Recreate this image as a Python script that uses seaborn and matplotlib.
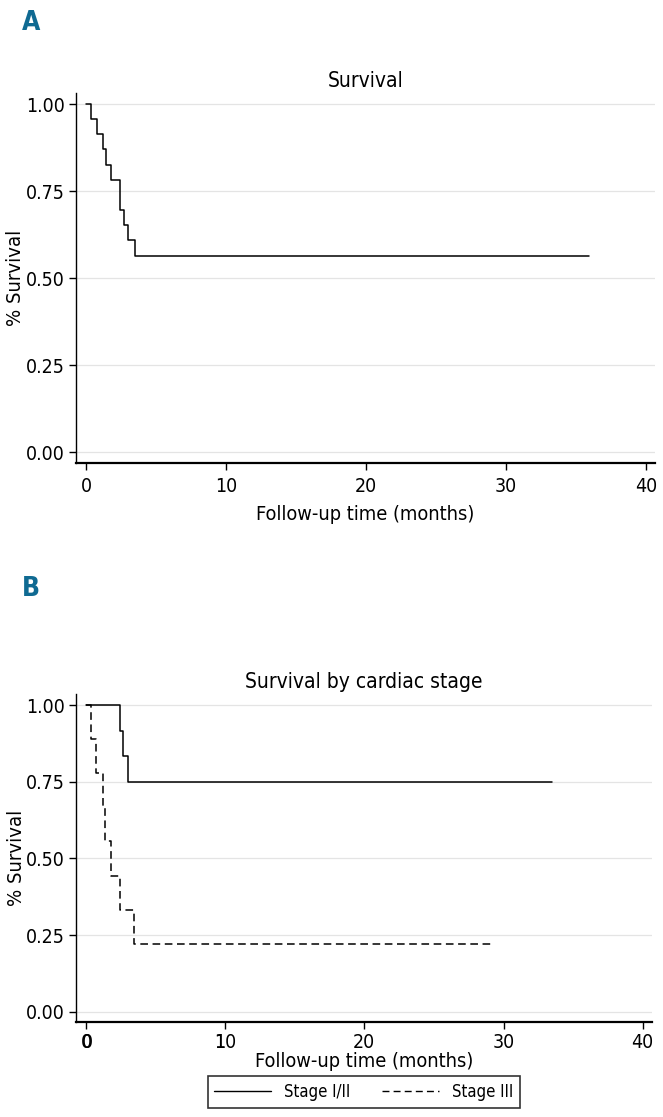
import numpy as np
import pandas as pd
import seaborn as sns
import matplotlib.pyplot as plt
from matplotlib.lines import Line2D

# Kaplan-Meier steps
all_time = [0, 0.34, 0.76, 1.24, 1.41, 1.81, 2.45, 2.74, 2.98, 3.48, 35.9]
all_surv = [1.0, 0.957, 0.913, 0.870, 0.826, 0.783, 0.696, 0.652, 0.609, 0.565, 0.565]

stage12_time = [0, 2.45, 2.68, 3.0, 33.5]
stage12_surv = [1.0, 0.917, 0.833, 0.750, 0.750]

stage3_time = [0, 0.34, 0.72, 1.2, 1.39, 1.8, 2.47, 3.43, 29.1]
stage3_surv = [1.0, 0.889, 0.778, 0.667, 0.556, 0.444, 0.333, 0.222, 0.222]

groups = ['Stage I/II', 'Stage III']
x_ticks = [0, 10, 20, 30, 40]
y_ticks = [0.0, 0.25, 0.5, 0.75, 1.0]

sns.set_theme(style='white')
plt.rcParams['font.family'] = ['Liberation Sans Narrow', 'DejaVu Sans']
plt.rcParams['font.stretch'] = 'condensed'
plt.rcParams['axes.edgecolor'] = 'black'
plt.rcParams['xtick.color'] = 'black'
plt.rcParams['ytick.color'] = 'black'
plt.rcParams['text.color'] = 'black'
plt.rcParams['axes.labelcolor'] = 'black'

fig = plt.figure(figsize=(6.63, 11.17), dpi=100)
axA = fig.add_axes([0.1142, 0.5858, 0.8738, 0.3309])
axB = fig.add_axes([0.1142, 0.0853, 0.8688, 0.2934])

dfA = pd.DataFrame({'time': all_time, 'surv': all_surv})
dfB = pd.concat([
    pd.DataFrame({'time': stage12_time, 'surv': stage12_surv, 'group': groups[0]}),
    pd.DataFrame({'time': stage3_time, 'surv': stage3_surv, 'group': groups[1]}),
])

sns.lineplot(data=dfA, x='time', y='surv', ax=axA, color='black', lw=1.1,
             drawstyle='steps-post', estimator=None)
sns.lineplot(data=dfB, x='time', y='surv', hue='group', style='group', ax=axB,
             palette=['black', 'black'], dashes={groups[0]: '', groups[1]: (5, 3)},
             lw=1.1, drawstyle='steps-post', estimator=None, legend=False)


def style_axes(ax, title, ylim, tick_pad, label_pad):
    ax.set_xlim(-0.74, 40.65)
    ax.set_ylim(*ylim)
    ax.set_xticks(x_ticks)
    ax.set_yticks(y_ticks)
    ax.set_yticklabels([f'{v:.2f}' for v in y_ticks])
    for s in ['top', 'right']:
        ax.spines[s].set_visible(False)
    ax.spines['left'].set_linewidth(1.0)
    ax.spines['bottom'].set_linewidth(1.6)
    ax.grid(axis='y', color='#e4e4e4', lw=0.9)
    ax.set_axisbelow(True)
    ax.tick_params(axis='both', direction='out', length=5, width=1.0,
                   labelsize=14, bottom=True, left=True, pad=3)
    ax.tick_params(axis='x', pad=tick_pad)
    ax.set_title(title, fontsize=15, pad=4.5)
    ax.set_xlabel('Follow-up time (months)', fontsize=14.3, labelpad=label_pad)
    ax.set_ylabel('% Survival', fontsize=14.5)
    ax.yaxis.set_label_coords(-0.087, 0.5)


style_axes(axA, 'Survival', (-0.03, 1.032), 5, 7)
style_axes(axB, 'Survival by cardiac stage', (-0.033, 1.037), 3, 0)

# overprinted tick labels in the original panel B
sec = axB.secondary_xaxis('bottom')
sec.set_xticks([0.08, 9.6])
sec.set_xticklabels(['0', '1'])
sec.tick_params(length=0, labelsize=14, pad=8)
sec.spines['bottom'].set_visible(False)

handles = [Line2D([], [], color='black', lw=1.0),
           Line2D([], [], color='black', lw=1.0, dashes=(5, 3))]
leg = fig.legend(handles, groups, loc='center', bbox_to_anchor=(0.549, 0.0224),
                 ncol=2, fontsize=12, frameon=True, fancybox=False,
                 edgecolor='black', handlelength=3.4, columnspacing=1.9,
                 borderpad=0.4)
leg.get_frame().set_linewidth(1.2)

fig.text(0.047, 0.979, 'A', fontsize=19, fontweight='bold', color='#0f6a92', va='center', ha='center')
fig.text(0.047, 0.473, 'B', fontsize=19, fontweight='bold', color='#0f6a92', va='center', ha='center')

fig.savefig('out.png', dpi=100)
